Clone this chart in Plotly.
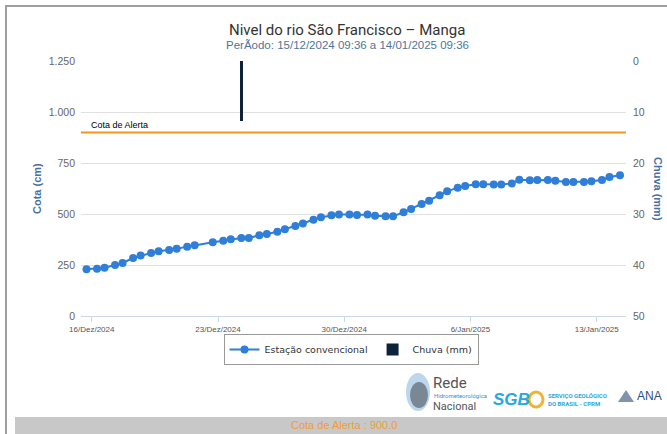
import plotly.graph_objects as go

# ---------------- data ----------------
title_text = "Nivel do rio São Francisco – Manga"
subtitle_text = "PerÃodo: 15/12/2024 09:36 a 14/01/2025 09:36"

level_times = [
    "2024-12-15 17:00",
    "2024-12-16 07:00", "2024-12-16 17:00",
    "2024-12-17 07:00", "2024-12-17 17:00",
    "2024-12-18 07:00", "2024-12-18 17:00",
    "2024-12-19 07:00", "2024-12-19 17:00",
    "2024-12-20 07:00", "2024-12-20 17:00",
    "2024-12-21 07:00", "2024-12-21 17:00",
    "2024-12-22 17:00",
    "2024-12-23 07:00", "2024-12-23 17:00",
    "2024-12-24 07:00", "2024-12-24 17:00",
    "2024-12-25 07:00", "2024-12-25 17:00",
    "2024-12-26 07:00", "2024-12-26 17:00",
    "2024-12-27 07:00", "2024-12-27 17:00",
    "2024-12-28 07:00", "2024-12-28 17:00",
    "2024-12-29 07:00", "2024-12-29 17:00",
    "2024-12-30 07:00", "2024-12-30 17:00",
    "2024-12-31 07:00", "2024-12-31 17:00",
    "2025-01-01 07:00", "2025-01-01 17:00",
    "2025-01-02 07:00", "2025-01-02 17:00",
    "2025-01-03 07:00", "2025-01-03 17:00",
    "2025-01-04 07:00", "2025-01-04 17:00",
    "2025-01-05 07:00", "2025-01-05 17:00",
    "2025-01-06 07:00", "2025-01-06 17:00",
    "2025-01-07 07:00", "2025-01-07 17:00",
    "2025-01-08 07:00", "2025-01-08 17:00",
    "2025-01-09 07:00", "2025-01-09 17:00",
    "2025-01-10 07:00", "2025-01-10 17:00",
    "2025-01-11 07:00", "2025-01-11 17:00",
    "2025-01-12 07:00", "2025-01-12 17:00",
    "2025-01-13 07:00", "2025-01-13 17:00",
    "2025-01-14 07:00",
]
level_values = [
    229,
    232, 237,
    250, 260,
    284, 296,
    309, 317,
    323, 330,
    340, 347,
    361,
    369, 376,
    382, 382,
    396, 402,
    413, 425,
    441, 454,
    472, 484,
    494, 498,
    498, 495,
    497, 492,
    489, 489,
    508, 525,
    549, 565,
    592, 611,
    629, 637,
    646, 646,
    644, 644,
    650, 668,
    665, 667,
    667, 663,
    657, 657,
    657, 660,
    667, 681,
    690,
]

rain_times = ["2024-12-24 07:00"]
rain_values = [11.8]

alert_level = 900
alert_label = "Cota de Alerta"
footer_text = "Cota de Alerta : 900.0"

x_range = ["2024-12-15 09:40", "2025-01-14 15:00"]
tick_dates = ["2024-12-16", "2024-12-23", "2024-12-30", "2025-01-06", "2025-01-13"]
tick_labels = ["16/Dez/2024", "23/Dez/2024", "30/Dez/2024", "6/Jan/2025", "13/Jan/2025"]
left_ticks = [0, 250, 500, 750, 1000, 1250]
right_ticks = [0, 10, 20, 30, 40, 50]

# ---------------- geometry helpers (pixel -> paper) ----------------
W, H = 667, 434
L, R, T, B = 81, 626, 61, 316


def px(x):
    return (x - L) / (R - L)


def py(y):
    return (B - y) / (B - T)


SANS = "Liberation Sans, Arial, sans-serif"
COND = "Roboto, Liberation Sans, sans-serif"
AXIS_TITLE_COLOR = "#4a6f9f"

fig = go.Figure()

fig.add_trace(go.Scatter(
    x=level_times, y=level_values, name="Estação convencional",
    mode="lines+markers",
    line=dict(color="#2f7ed8", width=2),
    marker=dict(color="#2f7ed8", size=8),
    yaxis="y",
))

fig.add_trace(go.Bar(
    x=rain_times, y=rain_values, name="Chuva (mm)",
    marker=dict(color="#0d233a", line=dict(width=0)),
    width=[16.8e6] * len(rain_times),
    yaxis="y2",
))

shapes = [
    # alert line
    dict(type="line", xref="paper", yref="y", x0=0, x1=1, y0=alert_level, y1=alert_level,
         line=dict(color="#f7941d", width=2)),
    # outer frame
    dict(type="rect", xref="paper", yref="paper", x0=px(6), x1=px(720), y0=py(6), y1=py(470),
         line=dict(color="#a0a0a0", width=2), fillcolor="rgba(0,0,0,0)", layer="below"),
    # footer bar
    dict(type="rect", xref="paper", yref="paper", x0=px(15), x1=px(720), y0=py(417), y1=py(470),
         line=dict(width=0), fillcolor="#c8c8c8", layer="below"),
    # RHN globe icon
    dict(type="circle", xref="paper", yref="paper", x0=px(406), x1=px(430), y0=py(373), y1=py(411),
         line=dict(width=0), fillcolor="#bcd6ec", layer="below"),
    dict(type="circle", xref="paper", yref="paper", x0=px(410), x1=px(428), y0=py(382), y1=py(408),
         line=dict(width=0), fillcolor="#7a8794", layer="below"),
    # SGB ring
    dict(type="circle", xref="paper", yref="paper", x0=px(529), x1=px(543), y0=py(392), y1=py(407),
         line=dict(color="#f2b233", width=3), fillcolor="rgba(0,0,0,0)", layer="below"),
    # ANA wave icon
    dict(type="path", xref="paper", yref="paper",
         path=f"M {px(618)},{py(402)} L {px(626)},{py(390)} L {px(634)},{py(402)} Z",
         line=dict(width=0), fillcolor="#7f93ad", layer="below"),
]

annotations = [
    dict(text=title_text, xref="paper", yref="paper", x=px(347), y=py(30),
         showarrow=False, font=dict(family=COND, size=15, color="#333333"),
         xanchor="center", yanchor="middle"),
    dict(text=subtitle_text, xref="paper", yref="paper", x=px(347), y=py(45),
         showarrow=False, font=dict(family=SANS, size=11.5, color="#4d759e"),
         xanchor="center", yanchor="middle"),
    dict(text="<b>Cota (cm)</b>", xref="paper", yref="paper", x=px(37), y=py(189),
         showarrow=False, textangle=-90, font=dict(family=SANS, size=11, color=AXIS_TITLE_COLOR),
         xanchor="center", yanchor="middle"),
    dict(text="<b>Chuva (mm)</b>", xref="paper", yref="paper", x=px(658), y=py(189),
         showarrow=False, textangle=90, font=dict(family=SANS, size=11, color=AXIS_TITLE_COLOR),
         xanchor="center", yanchor="middle"),
    dict(text=alert_label, xref="paper", yref="y", x=px(89), y=alert_level,
         showarrow=False, font=dict(family=SANS, size=9, color="#000000"),
         xanchor="left", yanchor="bottom", yshift=0),
    dict(text=footer_text, xref="paper", yref="paper", x=px(344), y=py(425),
         showarrow=False, font=dict(family=SANS, size=11, color="#f39a3a"),
         xanchor="center", yanchor="middle"),
    # logos (text approximations)
    dict(text="Rede", xref="paper", yref="paper", x=px(431), y=py(383),
         showarrow=False, font=dict(family=COND, size=15, color="#555555"),
         xanchor="left", yanchor="middle"),
    dict(text="Hidrometeorológica", xref="paper", yref="paper", x=px(432), y=py(395.5),
         showarrow=False, font=dict(family=COND, size=6, color="#3b8fd0"),
         xanchor="left", yanchor="middle"),
    dict(text="Nacional", xref="paper", yref="paper", x=px(431), y=py(406),
         showarrow=False, font=dict(family=COND, size=11, color="#555555"),
         xanchor="left", yanchor="middle"),
    dict(text="<b><i>SGB</i></b>", xref="paper", yref="paper", x=px(491), y=py(399),
         showarrow=False, font=dict(family=SANS, size=17, color="#29a8e0"),
         xanchor="left", yanchor="middle"),
    dict(text="<b>SERVIÇO GEOLÓGICO<br>DO BRASIL - CPRM</b>", xref="paper", yref="paper",
         x=px(546), y=py(399), showarrow=False, align="left",
         font=dict(family=COND, size=6, color="#29a8e0"),
         xanchor="left", yanchor="middle"),
    dict(text="ANA", xref="paper", yref="paper", x=px(635), y=py(396),
         showarrow=False, font=dict(family=SANS, size=12, color="#2c4f82"),
         xanchor="left", yanchor="middle"),
]

fig.update_layout(
    width=W, height=H,
    margin=dict(l=L, r=W - R, t=T, b=H - B, pad=0),
    paper_bgcolor="white", plot_bgcolor="white",
    separators=",.",
    showlegend=True,
    legend=dict(
        orientation="h", x=px(351), xanchor="center", y=py(334), yanchor="top",
        bordercolor="#999999", borderwidth=1, bgcolor="white",
        font=dict(family="DejaVu Sans, sans-serif", size=9.5, color="#333333"),
        itemwidth=30, traceorder="normal",
    ),
    xaxis=dict(
        type="date", range=x_range,
        tickvals=tick_dates, ticktext=tick_labels,
        showgrid=False, zeroline=False,
        showline=True, linecolor="#ccd6eb", linewidth=1,
        ticks="outside", ticklen=5, tickcolor="#ccd6eb",
        tickfont=dict(family=SANS, size=8, color="#555555"),
    ),
    yaxis=dict(
        range=[0, 1250], tickvals=left_ticks, separatethousands=True,
        showgrid=True, gridcolor="#e0e0e0", gridwidth=1, zeroline=False,
        showline=False, ticks="", ticklabelstandoff=5,
        tickfont=dict(family=SANS, size=10.5, color="#666666"),
    ),
    yaxis2=dict(
        overlaying="y", side="right", range=[50, 0], tickvals=right_ticks,
        showgrid=False, zeroline=False, showline=False, ticks="", ticklabelstandoff=6,
        tickfont=dict(family=SANS, size=10.5, color="#666666"),
    ),
    shapes=shapes,
    annotations=annotations,
    bargap=0,
)

fig.write_html(
    "out.html",
    config={"displayModeBar": False},
    post_script="document.body.style.margin='0';document.body.style.padding='0';"
                "document.documentElement.style.overflow='hidden';",
)
